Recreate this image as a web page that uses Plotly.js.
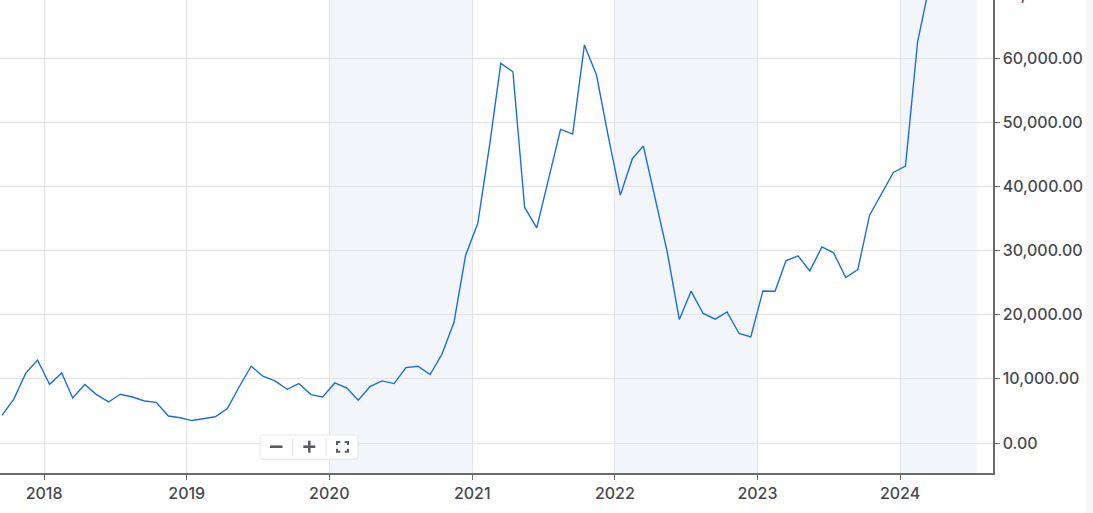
<!DOCTYPE html>
<html>
<head>
<meta charset="utf-8">
<script src="https://cdn.plot.ly/plotly-3.0.1.min.js"></script>
<style>html,body{margin:0;padding:0;background:#fff;}#chart{width:1093px;height:513px;}</style>
</head>
<body>
<div id="chart"></div>
<script>
// ---- data ----
const dates = [
  "2017-09-15","2017-10-15","2017-11-15","2017-12-15",
  "2018-01-15","2018-02-15","2018-03-15","2018-04-15","2018-05-15","2018-06-15","2018-07-15","2018-08-15","2018-09-15","2018-10-15","2018-11-15","2018-12-15",
  "2019-01-15","2019-02-15","2019-03-15","2019-04-15","2019-05-15","2019-06-15","2019-07-15","2019-08-15","2019-09-15","2019-10-15","2019-11-15","2019-12-15",
  "2020-01-15","2020-02-15","2020-03-15","2020-04-15","2020-05-15","2020-06-15","2020-07-15","2020-08-15","2020-09-15","2020-10-15","2020-11-15","2020-12-15",
  "2021-01-15","2021-02-15","2021-03-15","2021-04-15","2021-05-15","2021-06-15","2021-07-15","2021-08-15","2021-09-15","2021-10-15","2021-11-15","2021-12-15",
  "2022-01-15","2022-02-15","2022-03-15","2022-04-15","2022-05-15","2022-06-15","2022-07-15","2022-08-15","2022-09-15","2022-10-15","2022-11-15","2022-12-15",
  "2023-01-15","2023-02-15","2023-03-15","2023-04-15","2023-05-15","2023-06-15","2023-07-15","2023-08-15","2023-09-15","2023-10-15","2023-11-15","2023-12-15",
  "2024-01-15","2024-02-15","2024-03-15"
];
const prices = [
  4300, 6800, 10900, 12900,
  9160, 10920, 7020, 9120, 7550, 6400, 7600, 7180, 6560, 6350, 4210, 3930,
  3500, 3850, 4100, 5370, 8740, 11970, 10410, 9680, 8380, 9270, 7550, 7180,
  9370, 8580, 6670, 8850, 9680, 9270, 11770, 11970, 10680, 13800, 18790, 29300,
  34240, 46730, 59220, 57900, 36740, 33560, 41320, 48920, 48180, 62070, 57390, 47870,
  38660, 44390, 46310, 37880, 29810, 19260, 23680, 20200, 19310, 20450, 17080, 16540,
  23720, 23680, 28410, 29190, 26850, 30590, 29660, 25820, 27060, 35540, 38820, 42200,
  43190, 62590, 71000
];
const shadedStarts = ["2020-01-01", "2022-01-01", "2024-01-01"];
const shadedEnds   = ["2021-01-01", "2023-01-01", "2024-07-15"];
const xRange = ["2017-09-10", "2024-08-26"];
const yRange = [-4680, 69100];
const cutTickValue = 70000;
const cutTickLabel = "70,000.00";

// ---- layout helpers (pixel -> paper) ----
const PW = 993, PH = 473;
const X = p => p / PW;
const Y = p => 1 - p / PH;

const font = {family: "Inter, 'DejaVu Sans', sans-serif", size: 16, color: "#464a50", weight: 500};

const shapes = [];
for (let i = 0; i < shadedStarts.length; i++) {
  shapes.push({type: "rect", xref: "x", yref: "paper", x0: shadedStarts[i], x1: shadedEnds[i], y0: 0, y1: 1,
    fillcolor: "#f2f5f9", line: {width: 0}, layer: "below"});
}
// faint strip at the far right of the page
shapes.push({type: "rect", xref: "paper", yref: "paper", x0: X(1086), x1: X(1100), y0: Y(520), y1: Y(-5),
  fillcolor: "#f7f7f7", line: {width: 0}, layer: "above"});

// zoom control widget
function rr(x0, y0, x1, y1, r) {
  const p = (x, y) => X(x) + "," + Y(y);
  return "M" + p(x0 + r, y0) + " L" + p(x1 - r, y0) + " Q" + p(x1, y0) + " " + p(x1, y0 + r) +
    " L" + p(x1, y1 - r) + " Q" + p(x1, y1) + " " + p(x1 - r, y1) +
    " L" + p(x0 + r, y1) + " Q" + p(x0, y1) + " " + p(x0, y1 - r) +
    " L" + p(x0, y0 + r) + " Q" + p(x0, y0) + " " + p(x0 + r, y0) + " Z";
}
shapes.push({type: "path", xref: "paper", yref: "paper", path: rr(260.5, 436, 358.5, 460, 3),
  fillcolor: "#ececec", line: {width: 0}, layer: "above"});
shapes.push({type: "path", xref: "paper", yref: "paper", path: rr(260, 435, 358, 459, 3),
  fillcolor: "#ffffff", line: {color: "#e8e8e8", width: 1}, layer: "above"});
const ln = (x0, y0, x1, y1, c, w) => ({type: "line", xref: "paper", yref: "paper",
  x0: X(x0), y0: Y(y0), x1: X(x1), y1: Y(y1), line: {color: c, width: w}, layer: "above"});
shapes.push(ln(292.7, 438, 292.7, 456, "#e2e2e2", 1));
shapes.push(ln(326, 438, 326, 456, "#e2e2e2", 1));
shapes.push(ln(270, 446.7, 282.5, 446.7, "#5a5e63", 2.6));
shapes.push(ln(303.3, 446.7, 315.3, 446.7, "#5a5e63", 2.6));
shapes.push(ln(309.3, 440.7, 309.3, 452.7, "#5a5e63", 2.6));
const cp = pts => "M" + pts.map(q => X(q[0]) + "," + Y(q[1])).join(" L");
[
  [[337, 445], [337, 442], [340.3, 442]],
  [[344.7, 442], [348, 442], [348, 445]],
  [[348, 448.7], [348, 451.7], [344.7, 451.7]],
  [[340.3, 451.7], [337, 451.7], [337, 448.7]]
].forEach(seg => shapes.push({type: "path", xref: "paper", yref: "paper", path: cp(seg),
  line: {color: "#5a5e63", width: 2}, layer: "above"}));

const annotations = [{
  xref: "paper", yref: "paper", x: 1, xanchor: "left", xshift: 7,
  y: (cutTickValue - yRange[0]) / (yRange[1] - yRange[0]), yanchor: "middle",
  text: cutTickLabel, showarrow: false, font: font
}];

const trace = {
  type: "scatter", mode: "lines", x: dates, y: prices,
  line: {color: "#1a6de6", width: 1.4}, hoverinfo: "skip"
};

const layout = {
  width: 1093, height: 513,
  margin: {l: 0, r: 100, t: 0, b: 40, pad: 0},
  paper_bgcolor: "#ffffff", plot_bgcolor: "#ffffff",
  showlegend: false,
  xaxis: {
    type: "date", range: xRange, tickformat: "%Y", dtick: "M12", tick0: "2018-01-01",
    ticks: "outside", ticklen: 5, tickcolor: "#6b6b6b", tickwidth: 1,
    showline: true, linecolor: "#6b6b6b", linewidth: 1.5,
    showgrid: true, gridcolor: "#e3e4e6", gridwidth: 1, zeroline: false,
    tickfont: font, fixedrange: true
  },
  yaxis: {
    side: "right", range: yRange, dtick: 10000, tick0: 0, tickformat: ",.2f",
    ticks: "outside", ticklen: 5, tickcolor: "#6b6b6b", tickwidth: 1,
    showline: true, linecolor: "#6b6b6b", linewidth: 1.5,
    showgrid: true, gridcolor: "#e3e4e6", gridwidth: 1, zeroline: false,
    tickfont: font, fixedrange: true
  },
  shapes: shapes,
  annotations: annotations
};

Plotly.newPlot("chart", [trace], layout, {displayModeBar: false, staticPlot: true});
</script>
</body>
</html>
